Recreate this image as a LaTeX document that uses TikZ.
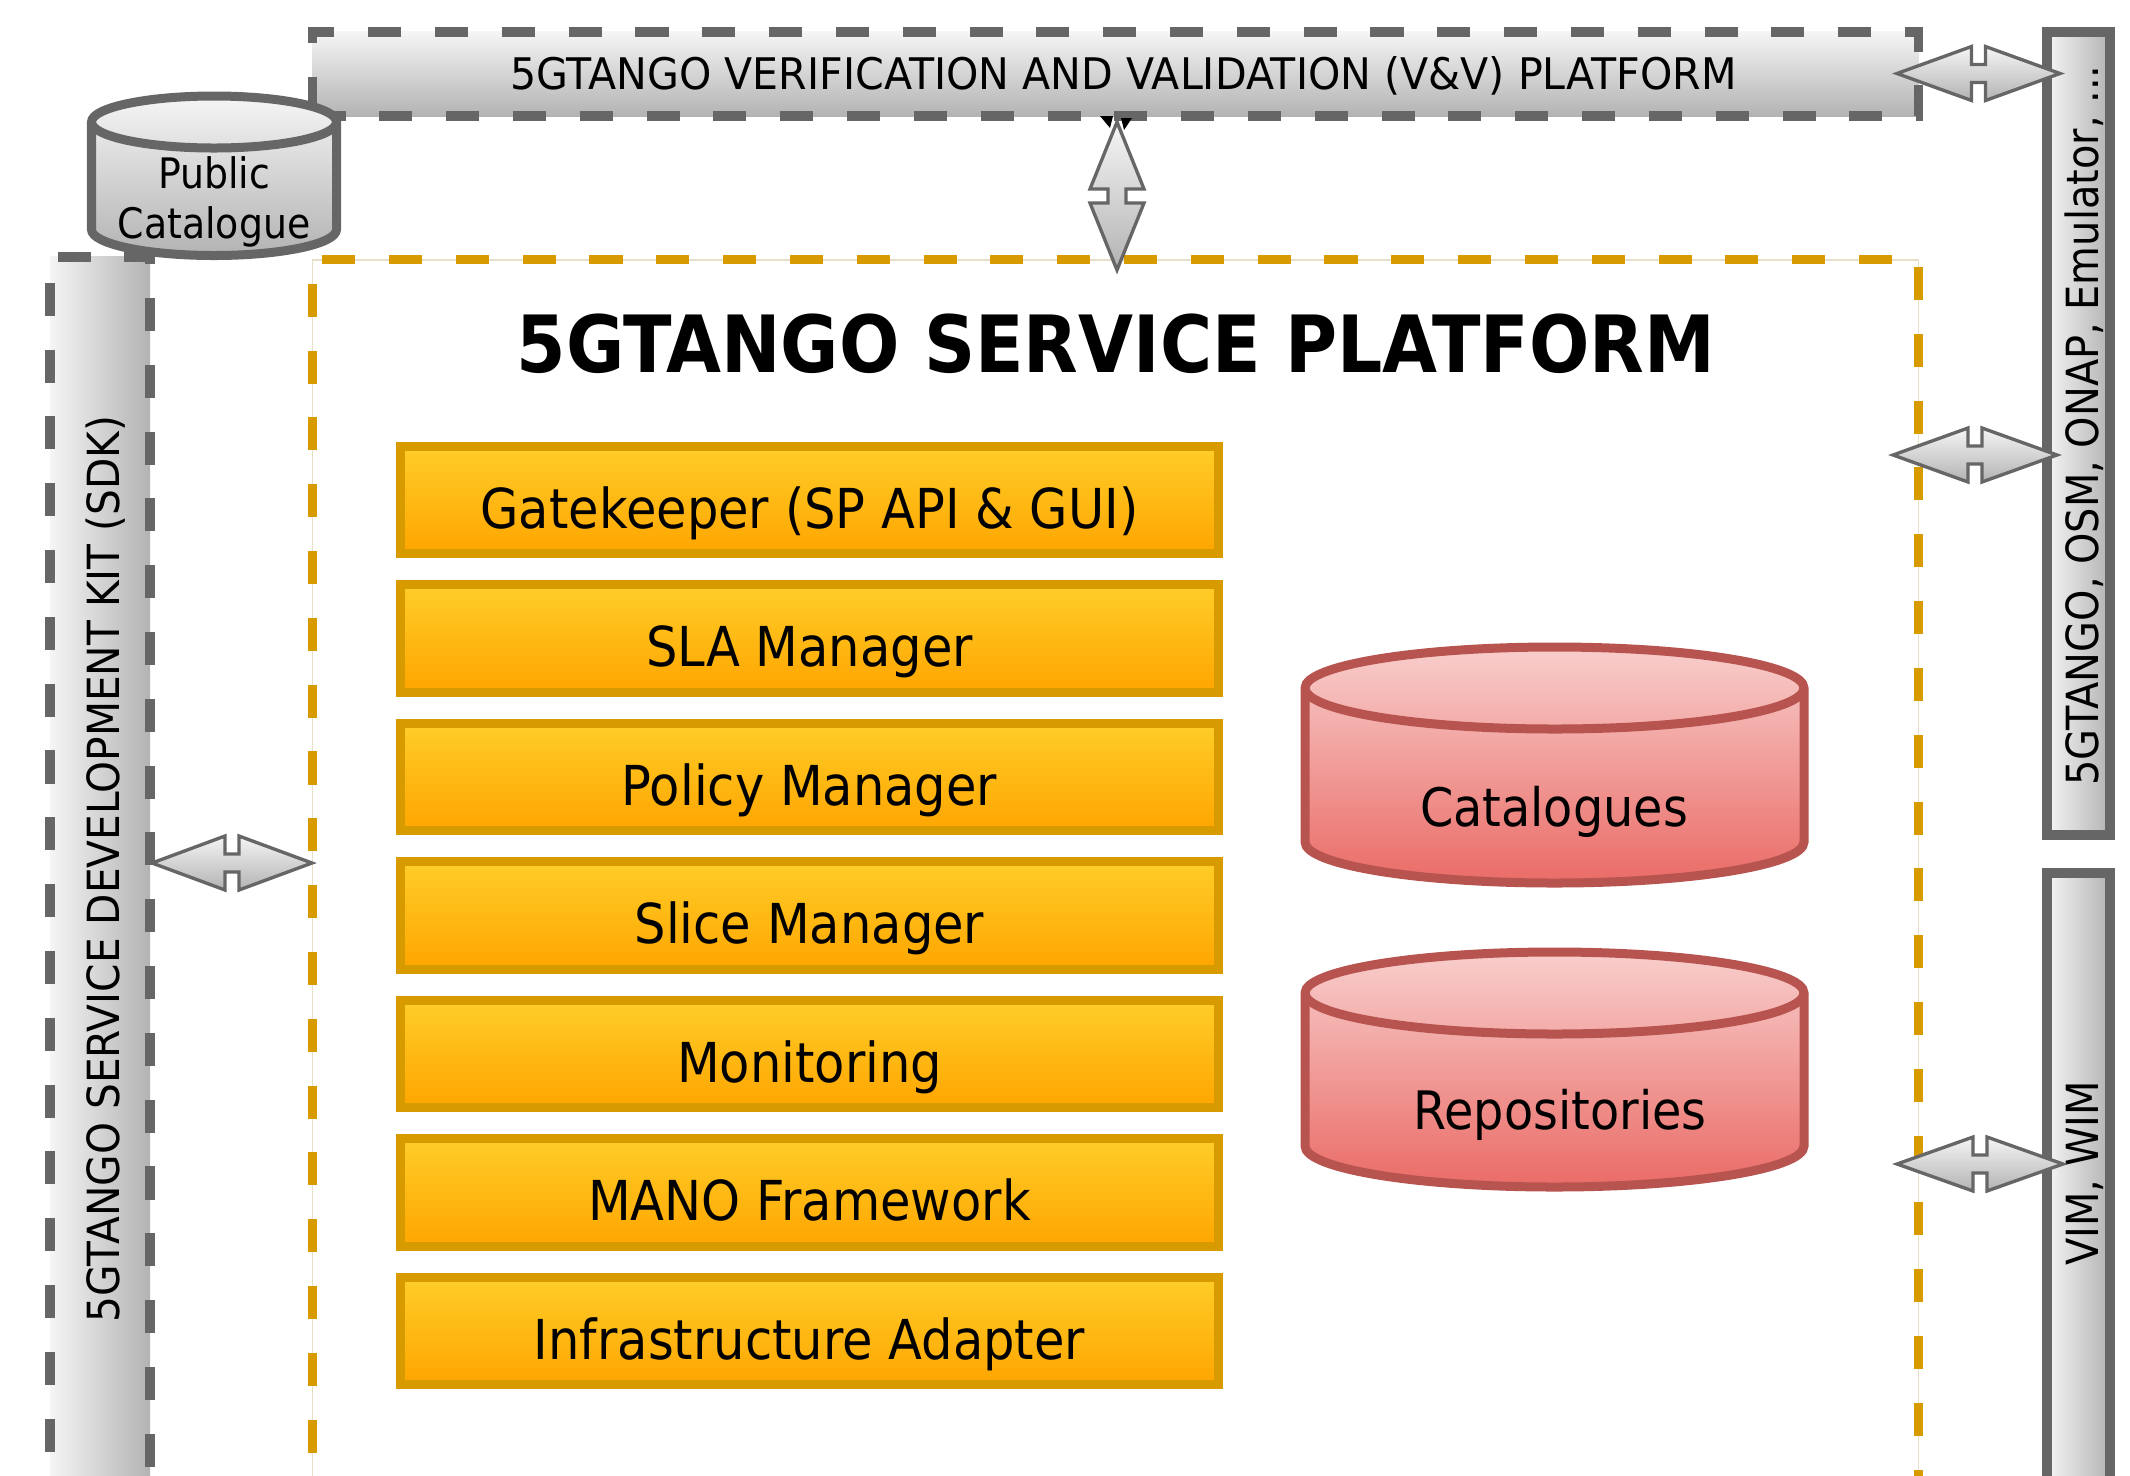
\documentclass[tikz,border=0pt]{standalone}
\usepackage{graphicx}
\usepackage{fontspec}
\setmainfont{DejaVu Sans}[FakeStretch=0.9]
\usetikzlibrary{calc}
\definecolor{gB}{HTML}{666666}
\definecolor{gT}{HTML}{F5F5F5}
\definecolor{gBt}{HTML}{B3B3B3}
\definecolor{oB}{HTML}{D79B00}
\definecolor{oT}{HTML}{FFCD28}
\definecolor{oBt}{HTML}{FFA500}
\definecolor{rB}{HTML}{B85450}
\definecolor{rT}{HTML}{F8CECC}
\definecolor{rBt}{HTML}{EA6B66}
\definecolor{cream}{HTML}{E8DFC8}

% cylinder: #1 fill style, #2 xc, #3 y top centre, #4 y bottom centre, #5 rx, #6 ry, #7 stroke colour
\newcommand{\mycyl}[7]{%
\path[#1, draw=#7, line width=2.56pt] ({#2-#5},#3) -- ({#2-#5},#4)
 .. controls ({#2-#5},{#4+0.5523*#6}) and ({#2-0.5523*#5},{#4+#6}) .. (#2,{#4+#6})
 .. controls ({#2+0.5523*#5},{#4+#6}) and ({#2+#5},{#4+0.5523*#6}) .. ({#2+#5},#4)
 -- ({#2+#5},#3)
 .. controls ({#2+#5},{#3-0.5523*#6}) and ({#2+0.5523*#5},{#3-#6}) .. (#2,{#3-#6})
 .. controls ({#2-0.5523*#5},{#3-#6}) and ({#2-#5},{#3-0.5523*#6}) .. ({#2-#5},#3) -- cycle;
\draw[draw=#7, line width=2.56pt] ({#2-#5},#3)
 .. controls ({#2-#5},{#3+0.5523*#6}) and ({#2-0.5523*#5},{#3+#6}) .. (#2,{#3+#6})
 .. controls ({#2+0.5523*#5},{#3+#6}) and ({#2+#5},{#3+0.5523*#6}) .. ({#2+#5},#3);
}
% horizontal double block arrow: name, x, y, half length
\newcommand{\harrow}[4]{%
\coordinate (#1) at (#2,#3);
\begin{scope}[shift={(#1)}]
\draw[blockarrow] (-#4,0) -- (-7,-27) -- (-7,-9) -- (7,-9) -- (7,-27) -- (#4,0)
 -- (7,27) -- (7,9) -- (-7,9) -- (-7,27) -- cycle;
\end{scope}}
% vertical double block arrow
\newcommand{\varrow}[4]{%
\coordinate (#1) at (#2,#3);
\begin{scope}[shift={(#1)}]
\draw[blockarrow] (0,-#4) -- (-27,-7) -- (-9,-7) -- (-9,7) -- (-27,7) -- (0,#4)
 -- (27,7) -- (9,7) -- (9,-7) -- (27,-7) -- cycle;
\end{scope}}

\begin{document}
\begin{tikzpicture}[x=0.01cm,y=-0.01cm,
 vvbar/.style={draw=gB, line width=2.8pt, dash pattern=on 9.4pt off 9.6pt, top color=gT, bottom color=gBt,
   minimum width=16.05cm, minimum height=0.84cm, inner sep=0pt,
   font=\fontsize{12.38pt}{14pt}\selectfont, text height=0.317cm, text depth=0pt},
 sdkbar/.style={draw=gB, line width=2.8pt, dash pattern=on 9.4pt off 9.6pt, left color=gT, right color=gBt,
   minimum width=1cm, minimum height=12.43cm, inner sep=0pt},
 spframe/.style={draw=oB, line width=2.4pt, dash pattern=on 9.4pt off 9.6pt,
   minimum width=16.05cm, minimum height=12.4cm, inner sep=0pt,
   preaction={draw=cream, line width=0.5pt, solid}},
 extbar/.style={draw=gB, line width=2.8pt, left color=gT, right color=gBt, minimum width=0.63cm, inner sep=0pt},
 sidetext/.style={rotate=90, inner sep=0pt, font=\fontsize{12.6pt}{14pt}\selectfont, text height=0.32cm, text depth=0pt},
 obox/.style={draw=oB, line width=2.56pt, top color=oT, bottom color=oBt, minimum width=8.18cm, minimum height=1.07cm,
   inner sep=0pt, font=\fontsize{15.65pt}{18pt}\selectfont, text height=0.56cm, text depth=0pt},
 cyltext/.style={inner sep=0pt, font=\fontsize{15.08pt}{18pt}\selectfont, text height=0.386cm, text depth=0pt},
 pubtext/.style={inner sep=0pt, anchor=base, font=\fontsize{11.95pt}{14pt}\selectfont},
 titletext/.style={inner sep=0pt, font=\fontsize{22.45pt}{26pt}\selectfont\bfseries, text height=0.575cm, text depth=0pt},
 blockarrow/.style={draw=gB, line width=0.95pt, top color=gT, bottom color=gBt, line join=miter}
]
\useasboundingbox (0,0) rectangle (2130,1475);
\clip (0,0) rectangle (2130,1475);

% outer frames
\node[spframe] (sp) at (1115.5,880) {};
\node[vvbar] (vv) at (1115.5,74) {\hspace*{0.16cm}\scalebox{1.05}[1]{5GTANGO VERIFICATION AND VALIDATION (V\&V) PLATFORM}};
\node[sdkbar] (sdk) at (100,878.5) {};
\node[sidetext] (sdkt) at (103.5,869) {\scalebox{1.02}[1]{5GTANGO SERVICE DEVELOPMENT KIT (SDK)}};
\node[extbar, minimum height=8.03cm] (rb1) at (2078.5,433.5) {};
\node[sidetext] (rb1t) at (2082,425.5) {5GTANGO, OSM, ONAP, Emulator, ...};
\node[extbar, minimum height=6.27cm] (rb2) at (2078.5,1186.5) {};
\node[sidetext] (rb2t) at (2082,1173.5) {VIM, WIM};

% public catalogue
\mycyl{top color=gT, bottom color=gBt}{214}{122}{229.5}{122.5}{26}{gB}
\node[pubtext] (pub1) at (214,188) {Public};
\node[pubtext] (pub2) at (214,238) {Catalogue};

% title
\node[titletext] (title) at (1116,344) {5GTANGO SERVICE PLATFORM};

% components
\node[obox] (gk)   at (809.5,500)    {Gatekeeper (SP API \& GUI)};
\node[obox] (sla)  at (809.5,638.5)  {SLA Manager};
\node[obox] (pol)  at (809.5,777)    {Policy Manager};
\node[obox] (slc)  at (809.5,915.5)  {Slice Manager};
\node[obox] (mon)  at (809.5,1054)   {Monitoring};
\node[obox] (mano) at (809.5,1192.5) {MANO Framework};
\node[obox] (ia)   at (809.5,1331)   {Infrastructure Adapter};

% data stores
\mycyl{top color=rT, bottom color=rBt}{1554.5}{688}{842}{249.5}{41}{rB}
\node[cyltext] (cat) at (1554,807) {Catalogues};
\mycyl{top color=rT, bottom color=rBt}{1554.5}{993}{1146}{249.5}{41}{rB}
\node[cyltext] (rep) at (1560,1110) {Repositories};

% connectors
\fill[black] (1100,116) -- (1113,116) -- (1110,128) -- cycle;
\fill[black] (1121,118) -- (1132,118) -- (1124,130) -- cycle;
\varrow{avv}{1117}{196}{74}
\harrow{avvr}{1978.5}{73.5}{81.5}
\harrow{arb1}{1975}{455}{82}
\harrow{arb2}{1980}{1164}{83}
\harrow{asdk}{232}{863}{80}
\end{tikzpicture}
\end{document}
